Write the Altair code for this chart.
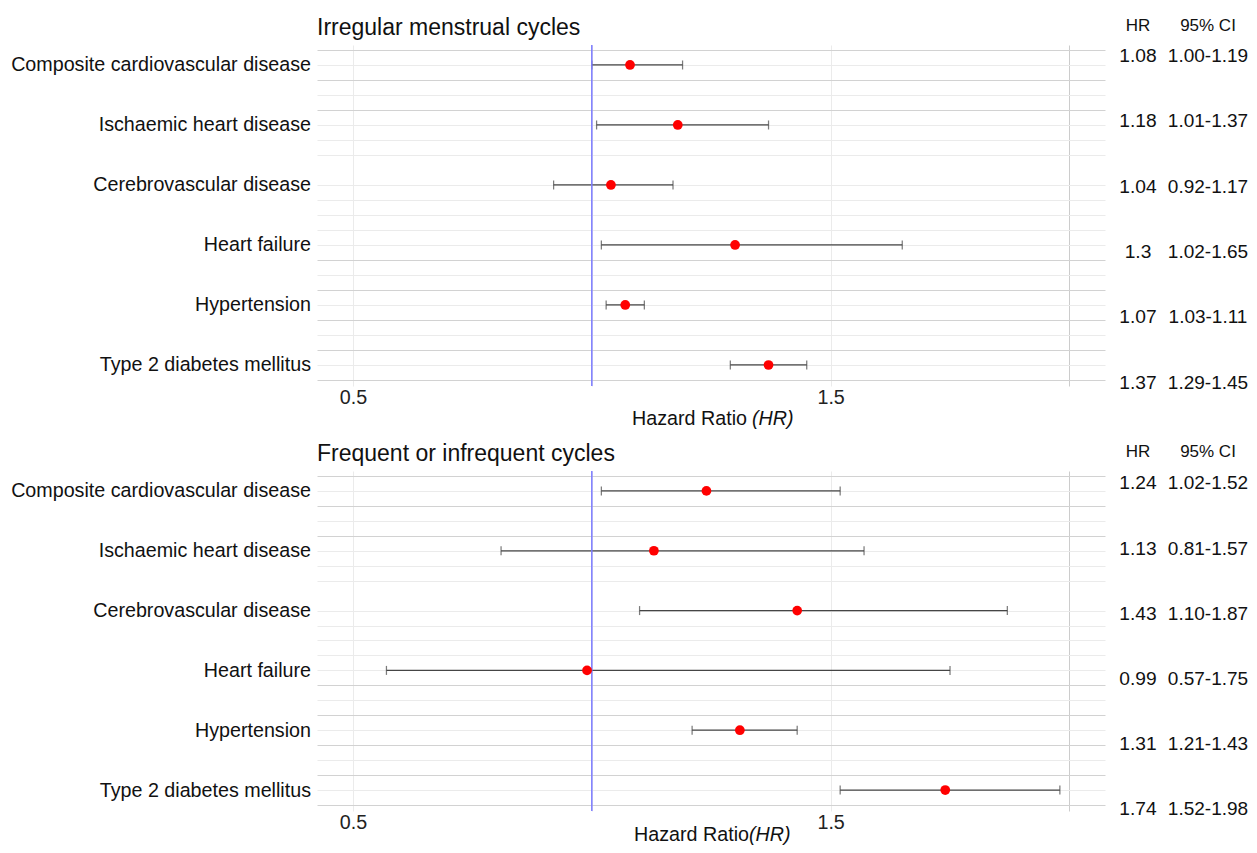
import altair as alt
import pandas as pd

# ---------------- data ----------------
diseases = [
    "Composite cardiovascular disease",
    "Ischaemic heart disease",
    "Cerebrovascular disease",
    "Heart failure",
    "Hypertension",
    "Type 2 diabetes mellitus",
]

irr_hr = [1.08, 1.18, 1.04, 1.3, 1.07, 1.37]
irr_lo = [1.00, 1.01, 0.92, 1.02, 1.03, 1.29]
irr_hi = [1.19, 1.37, 1.17, 1.65, 1.11, 1.45]

freq_hr = [1.24, 1.13, 1.43, 0.99, 1.31, 1.74]
freq_lo = [1.02, 0.81, 1.10, 0.57, 1.21, 1.52]
freq_hi = [1.52, 1.57, 1.87, 1.75, 1.43, 1.98]

null_hr = [1.0]
x_ticks = [0.5, 1.0, 1.5, 2.0]
x_labelled = [0.5, 1.5]
headers = ["HR", "95% CI"]
panel_titles = ["Irregular menstrual cycles", "Frequent or infrequent cycles"]

# ---------------- style ----------------
FONT = "Liberation Sans"
XDOM = [0.4246, 2.0745]
YDOM = [-0.333, 5.35]
W = 788
LIGHT = "#ebebeb"
DARK = "#d2d2d2"
grid_vals = [-0.25 + 0.25 * k for k in range(23) if k != 8]
dark_vals = [-0.25, 0.25, 0.75, 3.25, 3.75, 4.25, 4.75, 5.25]
LABEL_FS = 19.7
BAR = "#454545"
HR_X = 821
CI_X = 891


def panel(title, hr, lo, hi, height, tdom, space_in_title, axis_title_dy):
    df = pd.DataFrame({
        "disease": diseases,
        "row": list(range(len(diseases))),
        "hr": hr,
        "lo": lo,
        "hi": hi,
        "hr_text": [f"{v:g}" if len(f"{v:g}") < 4 else f"{v:.2f}" for v in hr],
        "ci": [f"{a:.2f}-{b:.2f}" for a, b in zip(lo, hi)],
    })
    xs = alt.Scale(domain=XDOM, nice=False, zero=False)
    ys = alt.Scale(domain=YDOM, nice=False, zero=False, reverse=True)
    label_expr = " : ".join(
        f"datum.value == {i} ? '{d}'" for i, d in enumerate(diseases)
    ) + " : ''"
    yaxis = alt.Axis(
        values=grid_vals, tickCount=200, labelExpr=label_expr, grid=True,
        gridColor={"condition": {"test": f"indexof({dark_vals}, datum.value) >= 0",
                                 "value": DARK}, "value": LIGHT},
        gridWidth=1, ticks=False, domain=False, labelOverlap=False,
        labelFontSize=LABEL_FS, labelColor="#111", labelFont=FONT,
        labelPadding=6.5, title=None, labelBound=False, labelLimit=0,
    )
    xaxis = alt.Axis(
        values=x_ticks, tickCount=50,
        labelExpr=f"indexof({x_labelled}, datum.value) >= 0 ? datum.label : ''",
        grid=True,
        gridColor={"condition": {"test": "datum.value == 2", "value": "#cccccc"},
                   "value": LIGHT},
        ticks=False, domain=False, labelOverlap=False, labelFontSize=LABEL_FS,
        labelColor="#222", labelFont=FONT, labelPadding=1, title=None,
        format=".1f",
    )
    base = alt.Chart(df)
    bars = base.mark_rule(color=BAR, strokeWidth=1.25).encode(
        x=alt.X("lo:Q", scale=xs, axis=xaxis), x2="hi:Q",
        y=alt.Y("row:Q", scale=ys, axis=yaxis),
    )
    cap_lo = base.mark_tick(orient="vertical", size=9, thickness=1.25, color=BAR).encode(
        x=alt.X("lo:Q", scale=xs), y=alt.Y("row:Q", scale=ys))
    cap_hi = base.mark_tick(orient="vertical", size=9, thickness=1.25, color=BAR).encode(
        x=alt.X("hi:Q", scale=xs), y=alt.Y("row:Q", scale=ys))
    ref = alt.Chart(pd.DataFrame({"ref": null_hr})).mark_rule(
        color="#7c7cff", strokeWidth=1.5).encode(x=alt.X("ref:Q", scale=xs))
    pts = base.mark_circle(size=95, color="#ff0000", opacity=1).encode(
        x=alt.X("hr:Q", scale=xs), y=alt.Y("row:Q", scale=ys))

    axis_y = height + axis_title_dy
    at1 = alt.Chart(pd.DataFrame({"t": ["Hazard Ratio"]})).mark_text(
        align="right", baseline="middle", font=FONT, fontSize=LABEL_FS, color="#111"
    ).encode(text="t:N", x=alt.value(430 if space_in_title else 432), y=alt.value(axis_y))
    at2 = alt.Chart(pd.DataFrame({"t": ["(HR)"]})).mark_text(
        align="left", baseline="middle", font=FONT, fontSize=LABEL_FS, fontStyle="italic",
        color="#111"
    ).encode(text="t:N", x=alt.value(435 if space_in_title else 432), y=alt.value(axis_y))
    ttl = alt.Chart(pd.DataFrame({"t": [title]})).mark_text(
        align="left", baseline="alphabetic", font=FONT, fontSize=23, color="#111"
    ).encode(text="t:N", x=alt.value(0), y=alt.value(-10))

    forest = alt.layer(bars, cap_lo, cap_hi, ref, pts, at1, at2, ttl)

    ts = alt.Scale(domain=tdom, nice=False, zero=False, reverse=True)
    t_hr = base.mark_text(font=FONT, fontSize=19.2, color="#111", align="center",
                          baseline="middle").encode(
        text="hr_text:N", x=alt.value(HR_X), y=alt.Y("row:Q", scale=ts, axis=None))
    t_ci = base.mark_text(font=FONT, fontSize=19, color="#111", align="center",
                          baseline="middle").encode(
        text="ci:N", x=alt.value(CI_X), y=alt.Y("row:Q", scale=ts, axis=None))
    h1 = alt.Chart(pd.DataFrame({"h": [headers[0]]})).mark_text(
        font=FONT, fontSize=17, color="#111", align="center", baseline="middle"
    ).encode(text="h:N", x=alt.value(HR_X), y=alt.value(-19))
    h2 = alt.Chart(pd.DataFrame({"h": [headers[1]]})).mark_text(
        font=FONT, fontSize=17, color="#111", align="center", baseline="middle"
    ).encode(text="h:N", x=alt.value(CI_X), y=alt.value(-19))
    table = alt.layer(t_hr, t_ci, h1, h2)

    return alt.layer(forest, table).resolve_scale(y="independent").properties(
        width=W, height=height,
    )


top = panel(panel_titles[0], irr_hr, irr_lo, irr_hi, 341, [-0.164, 5.05], True, 33)
bottom = panel(panel_titles[1], freq_hr, freq_lo, freq_hi, 340, [-0.189, 5.026], False, 24)

chart = alt.vconcat(top, bottom, spacing=14).configure_view(stroke=None).properties(
    padding={"left": 2, "top": 9, "right": 0, "bottom": 0}, background="white"
)

chart.save("out.html", embed_options={"renderer": "svg", "actions": False})
